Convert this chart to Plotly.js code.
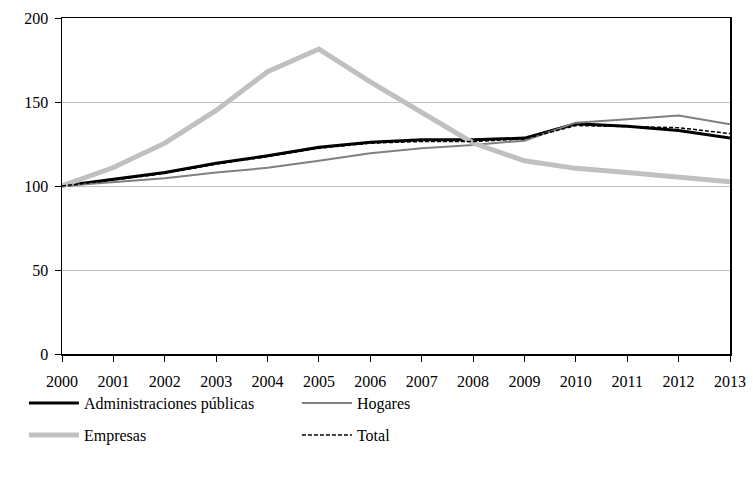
<!DOCTYPE html>
<html>
<head>
<meta charset="utf-8">
<script src="https://cdn.plot.ly/plotly-3.0.1.min.js"></script>
<style>
html,body{margin:0;padding:0;background:#fff;}
#chart{width:753px;height:478px;}
#chart svg text{font-family:'Liberation Serif','DejaVu Serif',serif !important;}
</style>
</head>
<body>
<div id="chart"></div>
<script>
const years = ['2000','2001','2002','2003','2004','2005','2006','2007','2008','2009','2010','2011','2012','2013'];
const administraciones = [100, 104, 108, 113.5, 118, 123, 126, 127.5, 127.5, 128.5, 137, 135.5, 133, 128.5];
const hogares = [100, 102.5, 104.6, 108, 110.8, 115, 119.5, 122.4, 124.4, 127, 137.7, 139.7, 142, 136.7];
const empresas = [100, 111, 125.5, 145, 168, 181.5, 162, 143.5, 125.6, 115, 110.5, 108, 105.3, 102.5];
const total = [100, 103.5, 107.5, 113, 117.5, 122.5, 125.5, 126.5, 126.5, 128, 136, 135.5, 134.7, 131.2];
const names = ['Administraciones públicas', 'Hogares', 'Empresas', 'Total'];

const FAM = "'Liberation Serif', 'DejaVu Serif', serif";
function f() { return {family: FAM, size: 16, color: '#000'}; }

const traces = [
  {x: years, y: administraciones, name: names[0], mode: 'lines', legend: 'legend', line: {color: '#000000', width: 3}},
  {x: years, y: hogares, name: names[1], mode: 'lines', legend: 'legend', line: {color: '#808080', width: 2}},
  {x: years, y: empresas, name: names[2], mode: 'lines', legend: 'legend2', line: {color: '#c0c0c0', width: 5}},
  {x: years, y: total, name: names[3], mode: 'lines', legend: 'legend2', line: {color: '#000000', width: 1.5, dash: '4px,2px'}}
];

function leg(y) {
  return {
    orientation: 'h', x: -0.057, xanchor: 'left', y: y, yanchor: 'middle',
    entrywidth: 208, entrywidthmode: 'pixels', itemwidth: 50,
    font: f(), tracegroupgap: 0, traceorder: 'normal', bgcolor: 'rgba(0,0,0,0)'
  };
}

const layout = {
  width: 753, height: 478,
  margin: {l: 62, r: 23, t: 18, b: 124, autoexpand: false},
  paper_bgcolor: '#fff', plot_bgcolor: '#fff',
  font: f(),
  showlegend: true,
  legend: leg(-0.146),
  legend2: leg(-0.241),
  xaxis: {
    type: 'category', range: [0, 13],
    showline: true, linecolor: '#000', linewidth: 1.5, mirror: true,
    ticks: 'outside', ticklen: 6, tickcolor: '#000', tickwidth: 1,
    ticklabelstandoff: 6,
    showgrid: false, zeroline: false, tickfont: f(), fixedrange: true
  },
  yaxis: {
    range: [0, 200], tickvals: [0, 50, 100, 150, 200],
    showline: true, linecolor: '#000', linewidth: 1.5, mirror: true,
    ticks: 'outside', ticklen: 6, tickcolor: '#000', tickwidth: 1,
    ticklabelstandoff: 3,
    showgrid: true, gridcolor: '#c0c0c0', gridwidth: 1,
    zeroline: false, tickfont: f(), fixedrange: true
  }
};

Plotly.newPlot('chart', traces, layout, {staticPlot: true, displayModeBar: false});
</script>
</body>
</html>
